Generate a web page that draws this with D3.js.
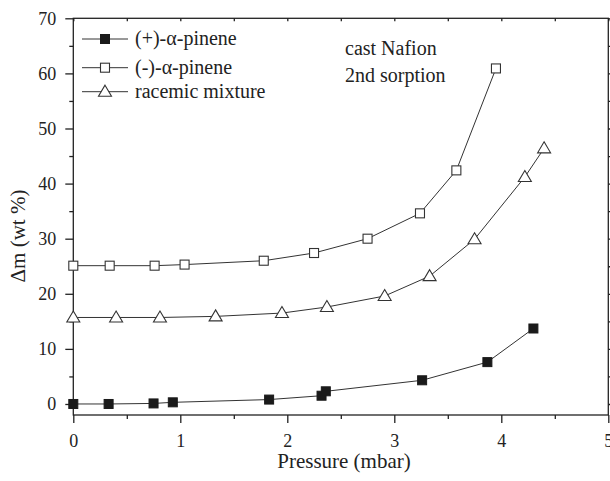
<!DOCTYPE html>
<html>
<head>
<meta charset="utf-8">
<script src="https://cdn.jsdelivr.net/npm/d3@7"></script>
<style>
  body { margin: 0; background: #fff; }
</style>
</head>
<body>
<div id="chart"></div>
<script>
// Data
var plusX  = [0, 0.33, 0.75, 0.93, 1.83, 2.32, 2.36, 3.26, 3.87, 4.30];
var plusY  = [0, 0, 0.1, 0.3, 0.8, 1.5, 2.3, 4.3, 7.6, 13.7];
var minusX = [0, 0.34, 0.76, 1.04, 1.78, 2.25, 2.75, 3.24, 3.58, 3.95];
var minusY = [25.1, 25.1, 25.1, 25.3, 26.0, 27.4, 30.0, 34.6, 42.4, 60.9];
var racX   = [0, 0.40, 0.81, 1.33, 1.95, 2.37, 2.91, 3.33, 3.75, 4.22, 4.40];
var racY   = [15.7, 15.7, 15.7, 15.9, 16.5, 17.6, 19.6, 23.2, 29.9, 41.2, 46.4];
var xTicks = [0, 1, 2, 3, 4, 5];
var yTicks = [0, 10, 20, 30, 40, 50, 60, 70];
var legendNames = ["(+)-\u03b1-pinene", "(-)-\u03b1-pinene", "racemic mixture"];

var width = 610, height = 481;
var padLeft = 73.3, padRight = 608.3, padTop = 18.3, padBottom = 415;
var serif = "Times New Roman, Liberation Serif, Times, DejaVu Serif, serif";

var svg = d3.select("#chart").append("svg")
  .attr("width", width)
  .attr("height", height)
  .style("font-family", serif);

var x = d3.scaleLinear().domain([0, 5]).range([padLeft, padRight]);
var y = d3.scaleLinear().domain([-2, 70]).range([padBottom, padTop]);

var minorX = d3.range(0.5, 5, 1);
var minorY = d3.range(5, 70, 10);

// frame
svg.append("rect")
  .attr("x", padLeft).attr("y", padTop)
  .attr("width", padRight - padLeft).attr("height", padBottom - padTop)
  .style("fill", "none").style("stroke", "#222").style("stroke-width", 1.3);

// bottom axis
svg.append("g")
  .attr("transform", "translate(0," + padBottom + ")")
  .call(d3.axisBottom(x).tickValues(xTicks).tickFormat(d3.format("d")).tickSize(8).tickPadding(11))
  .select(".domain").remove();
svg.append("g")
  .attr("transform", "translate(0," + padBottom + ")")
  .call(d3.axisBottom(x).tickValues(minorX).tickFormat("").tickSize(4))
  .select(".domain").remove();

// left axis
svg.append("g")
  .attr("transform", "translate(" + padLeft + ",0)")
  .call(d3.axisLeft(y).tickValues(yTicks).tickFormat(d3.format("d")).tickSize(8).tickPadding(9))
  .select(".domain").remove();
svg.append("g")
  .attr("transform", "translate(" + padLeft + ",0)")
  .call(d3.axisLeft(y).tickValues(minorY).tickFormat("").tickSize(4))
  .select(".domain").remove();

// top & right ticks (no labels)
svg.append("g")
  .attr("transform", "translate(0," + padTop + ")")
  .call(d3.axisBottom(x).tickValues(xTicks.concat(minorX)).tickFormat("").tickSize(3))
  .select(".domain").remove();
svg.append("g")
  .attr("transform", "translate(" + padRight + ",0)")
  .call(d3.axisRight(y).tickValues(yTicks.concat(minorY)).tickFormat("").tickSize(4))
  .select(".domain").remove();

svg.selectAll("g").attr("font-family", null);
svg.selectAll(".tick line").style("stroke", "#222").style("stroke-width", 1.3);
svg.selectAll(".tick text")
  .style("font-family", serif)
  .style("font-size", "18px")
  .style("fill", "#222");

// axis titles
svg.append("text")
  .attr("x", 344).attr("y", 468)
  .attr("text-anchor", "middle")
  .style("font-family", serif)
  .style("font-size", "21px")
  .style("fill", "#222")
  .text("Pressure (mbar)");

svg.append("text")
  .attr("transform", "translate(25,236) rotate(-90)")
  .attr("text-anchor", "middle")
  .style("font-family", serif)
  .style("font-size", "21px")
  .style("fill", "#222")
  .text("\u0394m (wt %)");

// series
var line = d3.line().x(d => x(d[0])).y(d => y(d[1]));
var series = [
  { pts: d3.zip(plusX, plusY), shape: "fsquare" },
  { pts: d3.zip(minusX, minusY), shape: "square" },
  { pts: d3.zip(racX, racY), shape: "triangle" }
];

function drawMarker(g, shape, cx, cy) {
  if (shape === "fsquare") {
    g.append("rect").attr("x", cx - 4.5).attr("y", cy - 4.5)
      .attr("width", 9).attr("height", 9)
      .style("fill", "#1a1a1a").style("stroke", "#1a1a1a");
  } else if (shape === "square") {
    g.append("rect").attr("x", cx - 4.5).attr("y", cy - 4.5)
      .attr("width", 9).attr("height", 9)
      .style("fill", "#fff").style("stroke", "#333").style("stroke-width", 1.1);
  } else {
    g.append("path")
      .attr("d", "M" + cx + "," + (cy - 6.5) + "L" + (cx + 6.5) + "," + (cy + 4.5) + "L" + (cx - 6.5) + "," + (cy + 4.5) + "Z")
      .style("fill", "#fff").style("stroke", "#333").style("stroke-width", 1.1);
  }
}

series.forEach(function (s) {
  svg.append("path")
    .datum(s.pts)
    .attr("d", line)
    .style("fill", "none").style("stroke", "#333").style("stroke-width", 1);
  var g = svg.append("g");
  s.pts.forEach(function (p) { drawMarker(g, s.shape, x(p[0]), y(p[1])); });
});

// legend
var legendY = [39, 67.7, 91.7];
series.forEach(function (s, i) {
  svg.append("line")
    .attr("x1", 82).attr("x2", 128)
    .attr("y1", legendY[i]).attr("y2", legendY[i])
    .style("stroke", "#333").style("stroke-width", 1);
  drawMarker(svg.append("g"), s.shape, 105, legendY[i]);
  svg.append("text")
    .attr("x", 135).attr("y", legendY[i] + 6)
    .style("font-family", serif)
    .style("font-size", "20px")
    .style("fill", "#222")
    .text(legendNames[i]);
});

// annotation
svg.append("text").attr("x", 345).attr("y", 55)
  .style("font-family", serif).style("fill", "#222")
  .style("font-size", "20px").text("cast Nafion");
svg.append("text").attr("x", 345).attr("y", 82)
  .style("font-family", serif).style("fill", "#222")
  .style("font-size", "20px").text("2nd sorption");
</script>
</body>
</html>
